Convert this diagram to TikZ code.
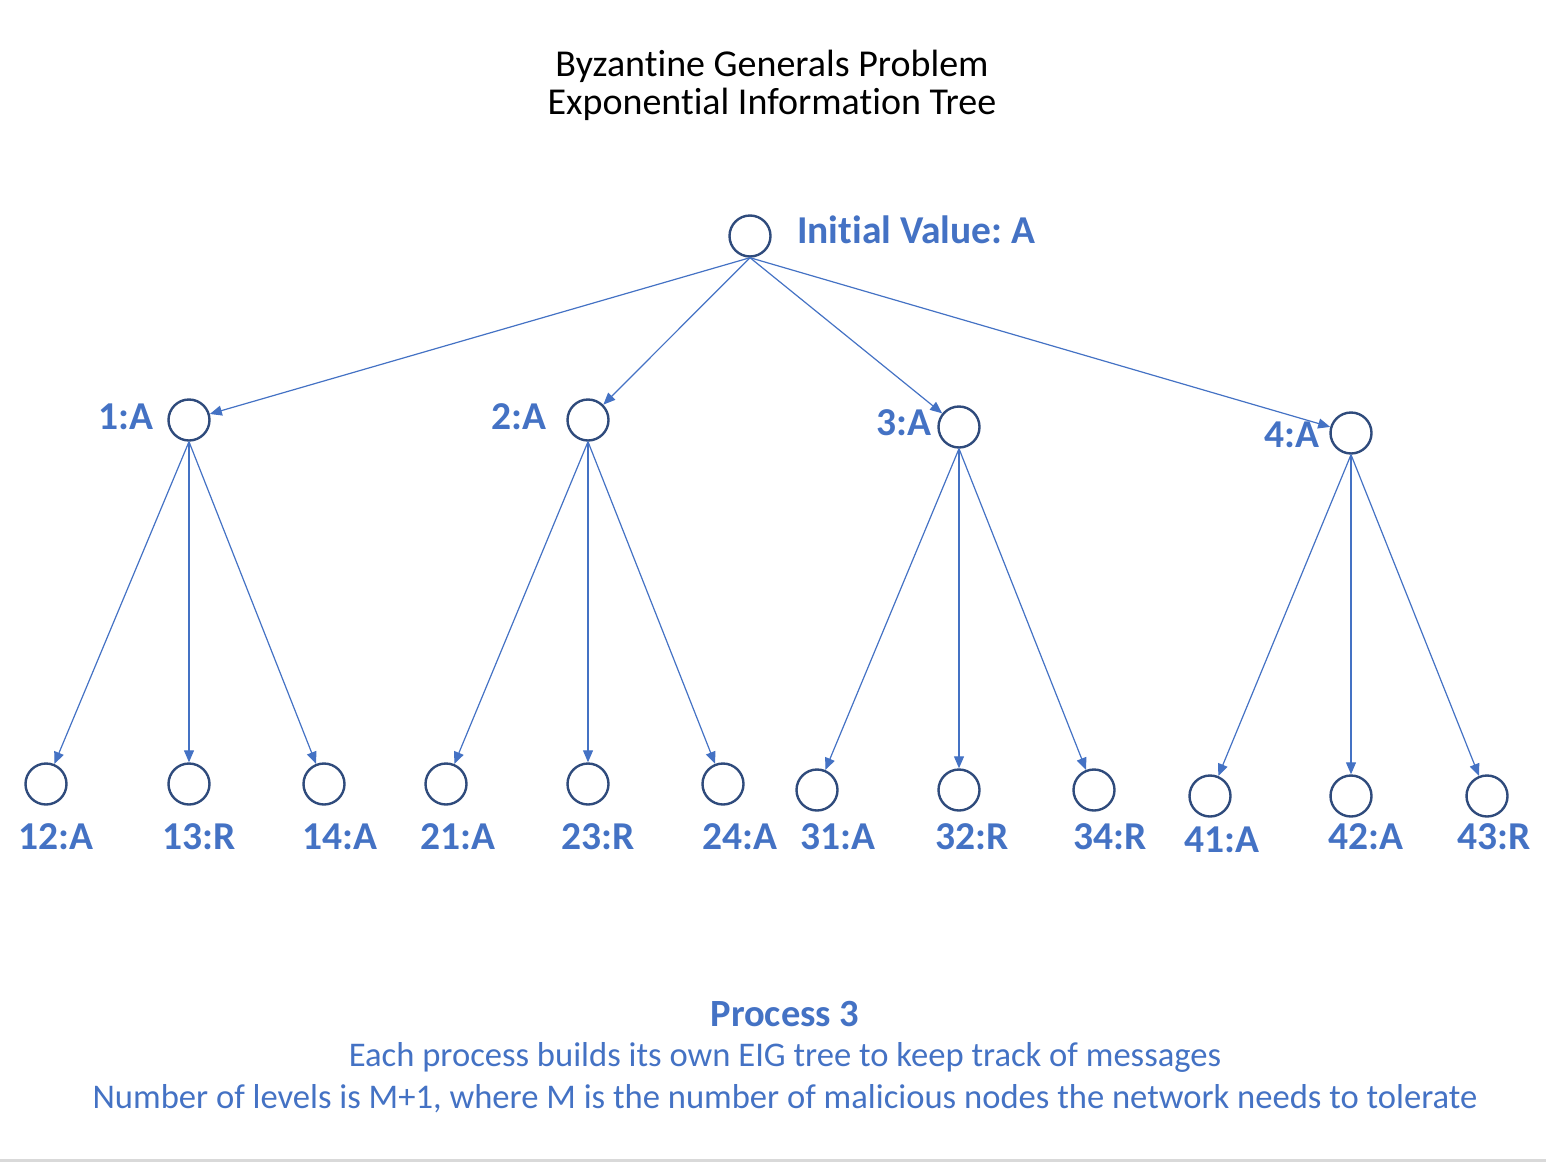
\documentclass[tikz,border=0pt]{standalone}
\usepackage{fontspec}
\setmainfont{Carlito}[Ligatures=NoCommon]
\usetikzlibrary{arrows.meta}
\definecolor{tblue}{HTML}{4472C4}
\definecolor{cblue}{HTML}{2F4B7C}
\definecolor{rulegray}{HTML}{D9D9D9}
\frenchspacing
\tikzset{
  vtx/.style={circle,draw=cblue,line width=2.4pt,minimum size=41pt,inner sep=0pt},
  lbl/.style={text=tblue,font=\fontsize{39.5}{44}\selectfont\bfseries,inner sep=0pt},
  edge/.style={draw=tblue,line width=1.2pt,-{Triangle[length=12pt,width=10pt]}},
  body/.style={text=tblue,font=\fontsize{34.6}{38}\selectfont,inner sep=0pt}
}
\begin{document}
\begin{tikzpicture}[x=1pt,y=-1pt]
\useasboundingbox (0,0) rectangle (1546,1162);
\fill[rulegray] (0,1159) rectangle (1546,1162);
% title
\node[inner sep=0pt,font=\fontsize{38}{42}\selectfont] (t1) at (772,66) {Byzantine Generals Problem};
\node[inner sep=0pt,font=\fontsize{38}{42}\selectfont] (t2) at (772,104) {Exponential Information Tree};
% root
\node[vtx] (r) at (750,236) {};
\node[lbl,anchor=west] (rl) at (797,230) {Initial Value: A};
% level 1
\node[vtx] (n1) at (189,420) {};
\node[vtx] (n2) at (588,420) {};
\node[vtx] (n3) at (959,427) {};
\node[vtx] (n4) at (1351,433) {};
\node[lbl,anchor=east] (l1) at (154,417) {1:A};
\node[lbl,anchor=east] (l2) at (547,417) {2:A};
\node[lbl,anchor=east] (l3) at (932,423) {3:A};
\node[lbl,anchor=east] (l4) at (1320,435) {4:A};
% level 2
\node[vtx] (n12) at (46,784) {};
\node[vtx] (n13) at (189,784) {};
\node[vtx] (n14) at (324,784) {};
\node[vtx] (n21) at (446,784) {};
\node[vtx] (n23) at (588,784) {};
\node[vtx] (n24) at (723,784) {};
\node[vtx] (n31) at (817,790) {};
\node[vtx] (n32) at (959,790) {};
\node[vtx] (n34) at (1094,790) {};
\node[vtx] (n41) at (1210,796) {};
\node[vtx] (n42) at (1351,796) {};
\node[vtx] (n43) at (1487,796) {};
\node[lbl] (l12) at (56,837) {12:A};
\node[lbl] (l13) at (199,837) {13:R};
\node[lbl] (l14) at (340,837) {14:A};
\node[lbl] (l21) at (458,837) {21:A};
\node[lbl] (l23) at (598,837) {23:R};
\node[lbl] (l24) at (740,837) {24:A};
\node[lbl] (l31) at (838,837) {31:A};
\node[lbl] (l32) at (972,837) {32:R};
\node[lbl] (l34) at (1110,837) {34:R};
\node[lbl] (l41) at (1222,840) {41:A};
\node[lbl] (l42) at (1366,837) {42:A};
\node[lbl] (l43) at (1494,837) {43:R};
% edges
\foreach \c in {n1,n2,n3,n4} \draw[edge] (r.south) -- (\c);
\foreach \c in {n12,n13,n14} \draw[edge] (n1.south) -- (\c);
\foreach \c in {n21,n23,n24} \draw[edge] (n2.south) -- (\c);
\foreach \c in {n31,n32,n34} \draw[edge] (n3.south) -- (\c);
\foreach \c in {n41,n42,n43} \draw[edge] (n4.south) -- (\c);
% footer
\node[lbl,font=\fontsize{38.5}{42}\selectfont\bfseries] (p3) at (785,1014) {Process 3};
\node[body] (b1) at (785,1057) {Each process builds its own EIG tree to keep track of messages};
\node[body] (b2) at (785,1099) {Number of levels is M+1, where M is the number of malicious nodes the network needs to tolerate};
\end{tikzpicture}
\end{document}
